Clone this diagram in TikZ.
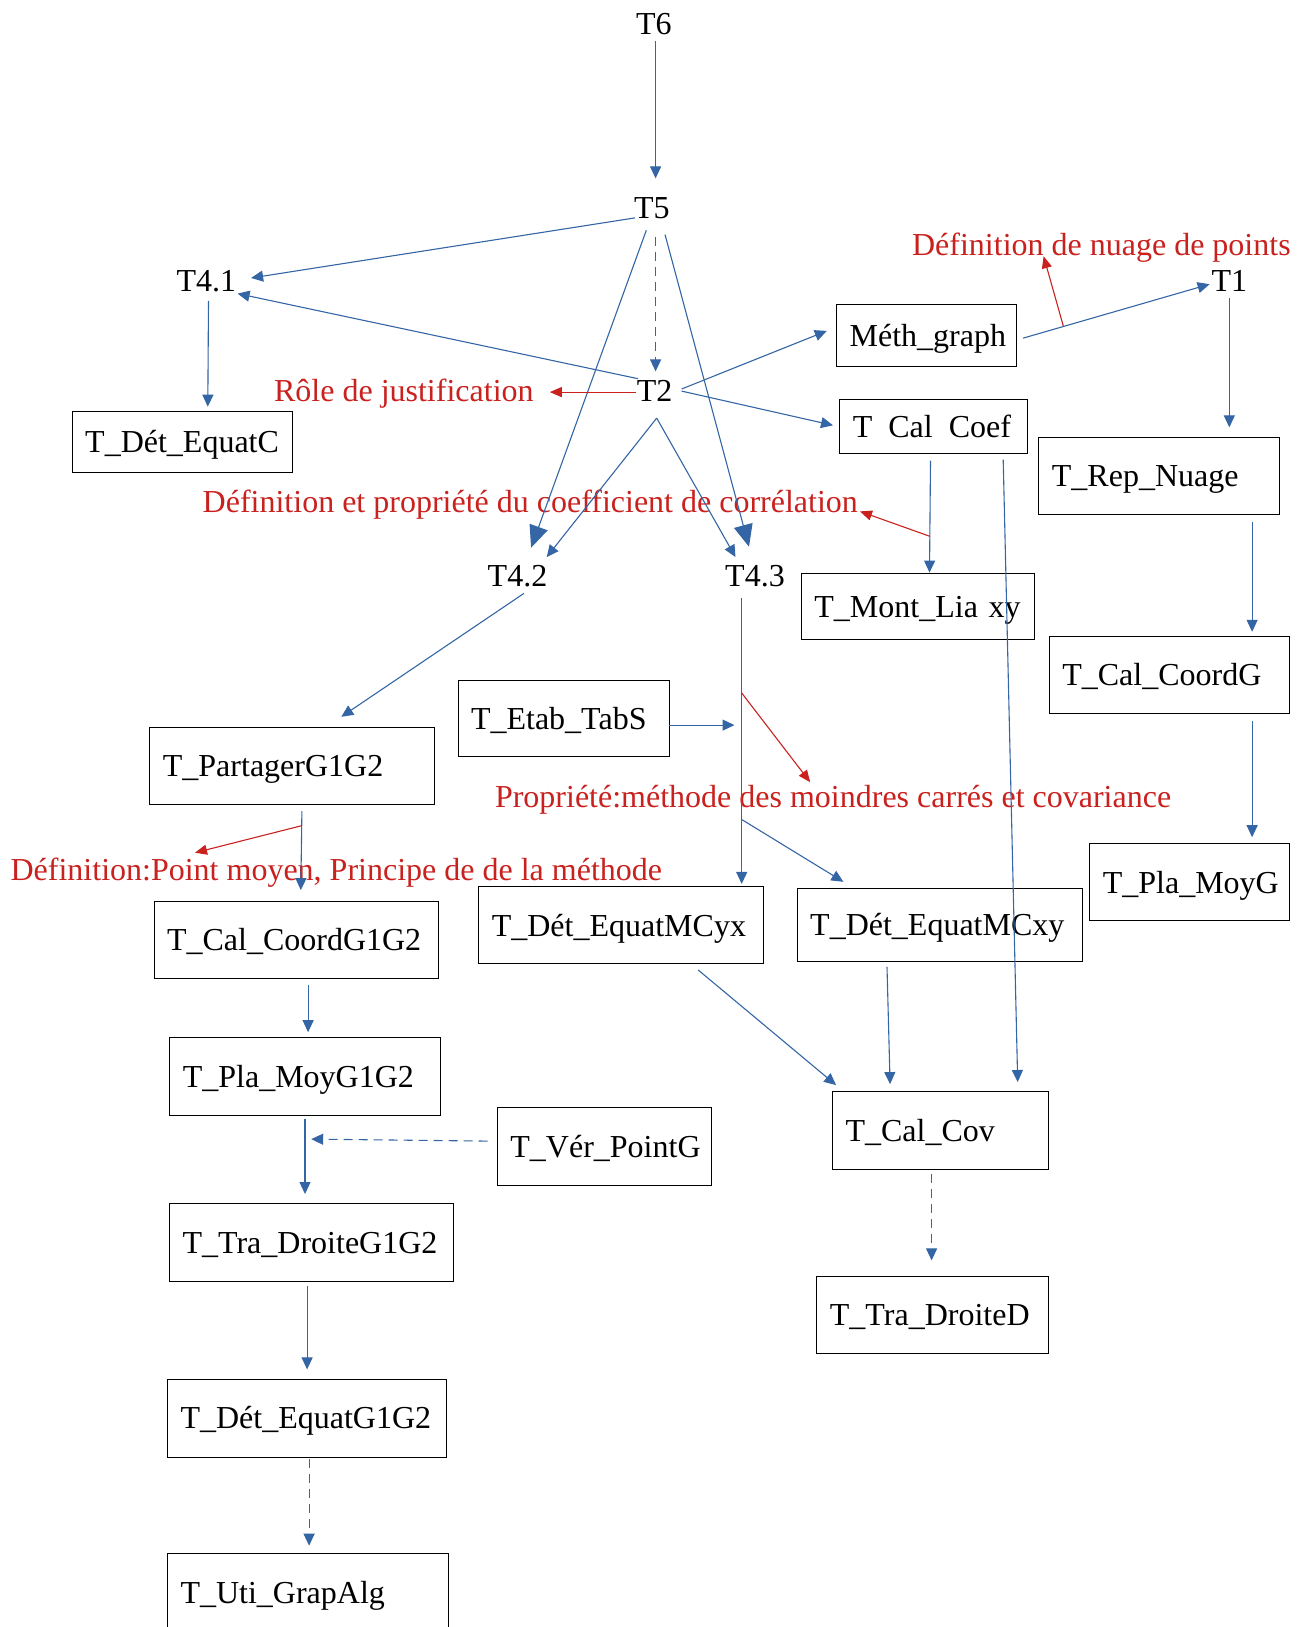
\documentclass[tikz,border=0pt]{standalone}
\usepackage{fontspec}
\setmainfont{Liberation Serif}
\usetikzlibrary{arrows.meta}
\definecolor{lblue}{HTML}{3465A4}
\definecolor{lred}{HTML}{C9211E}
\begin{document}
\begin{tikzpicture}[x=1pt,y=-1pt,
  font=\fontsize{32pt}{38pt}\selectfont,
  lab/.style={inner sep=0pt, text height=21.7pt, text depth=0pt},
  rlab/.style={lab, text=lred, anchor=west},
  tbox/.style={draw=black, line width=1pt, anchor=north west, inner xsep=13pt, inner ysep=0pt,
               align=left, text height=21.7pt, text depth=0pt},
  conn/.style={draw=lblue, line width=1.1pt, -{Triangle[length=12pt,width=11pt]}},
  bigconn/.style={draw=lblue, line width=1.1pt, -{Triangle[length=22pt,width=19pt]}},
  dconn/.style={conn, dash pattern=on 9pt off 6pt},
  rconn/.style={draw=lred, line width=1.1pt, -{Triangle[length=12pt,width=10pt]}}]
\useasboundingbox (0,0) rectangle (1304,1627);

% plain task labels
\node[lab] (T6) at (653.8,23.8) {T6};
\node[lab] (T5) at (651.8,207.8) {T5};
\node[lab] (T41) at (206.4,281.1) {T4.1};
\node[lab] (T2) at (654.6,391.1) {T2};
\node[lab] (T1) at (1229.3,281.1) {T1};
\node[lab] (T42) at (517.5,575.5) {T4.2};
\node[lab] (T43) at (755,575.5) {T4.3};

% red labels
\node[rlab] (Lnuage) at (911.9,244.8) {Définition de nuage de points};
\node[rlab] (Lrole) at (273.9,391.1) {Rôle de justification};
\node[rlab] (Lcoef) at (202.5,502.1) {Définition et propriété du coefficient de corrélation};
\node[rlab] (Lmc) at (494.8,796.7) {Propriété:méthode des moindres carrés et covariance};
\node[rlab] (Lpm) at (10.4,869.3) {Définition:Point moyen, Principe de de la méthode};

% boxes
\node[tbox, minimum width=179.5pt, minimum height=62.2pt, text width=153.5pt] (meth) at (836.1,304.0) {Méth\_graph};
\node[tbox, minimum width=219.8pt, minimum height=61.2pt, text width=193.8pt] (detC) at (71.7,410.8) {T\_Dét\_EquatC};
\node[tbox, minimum width=187.7pt, minimum height=53.9pt, text width=161.7pt] (coef) at (839.3,399.4) {T\phantom{\_}Cal\phantom{\_}Coef};
\node[tbox, minimum width=240.7pt, minimum height=76.8pt, text width=214.7pt] (rep) at (1038.4,436.7) {T\_Rep\_Nuage};
\node[tbox, minimum width=233.4pt, minimum height=66.4pt, text width=207.4pt] (mont) at (800.9,572.6) {T\_Mont\_Lia~xy};
\node[tbox, minimum width=239.7pt, minimum height=76.8pt, text width=213.7pt] (coordG) at (1048.8,635.9) {T\_Cal\_CoordG};
\node[tbox, minimum width=211.6pt, minimum height=76.8pt, text width=185.6pt] (etab) at (457.5,679.5) {T\_Etab\_TabS};
\node[tbox, minimum width=284.2pt, minimum height=76.8pt, text width=258.2pt] (part) at (149.4,727.2) {T\_PartagerG1G2};
\node[tbox, minimum width=199.2pt, minimum height=76.8pt, text width=173.2pt] (plaG) at (1089.3,843.4) {T\_Pla\_MoyG};
\node[tbox, minimum width=284.3pt, minimum height=77.8pt, text width=258.3pt] (coordGG) at (153.5,900.5) {T\_Cal\_CoordG1G2};
\node[tbox, minimum width=285.0pt, minimum height=77.3pt, text width=259.0pt] (mcyx) at (478.3,886.0) {T\_Dét\_EquatMCyx};
\node[tbox, minimum width=285.3pt, minimum height=72.6pt, text width=259.3pt] (mcxy) at (796.7,888.0) {T\_Dét\_EquatMCxy};
\node[tbox, minimum width=270.7pt, minimum height=77.7pt, text width=244.7pt] (plaGG) at (169.3,1037.3) {T\_Pla\_MoyG1G2};
\node[tbox, minimum width=213.7pt, minimum height=77.8pt, text width=187.7pt] (ver) at (496.9,1106.9) {T\_Vér\_PointG};
\node[tbox, minimum width=215.8pt, minimum height=77.8pt, text width=189.8pt] (cov) at (832.0,1091.3) {T\_Cal\_Cov};
\node[tbox, minimum width=284.2pt, minimum height=77.8pt, text width=258.2pt] (traGG) at (169.1,1203.4) {T\_Tra\_DroiteG1G2};
\node[tbox, minimum width=231.4pt, minimum height=76.8pt, text width=205.4pt] (traD) at (816.4,1276.0) {T\_Tra\_DroiteD};
\node[tbox, minimum width=279.1pt, minimum height=77.8pt, text width=253.1pt] (eqGG) at (167.0,1378.7) {T\_Dét\_EquatG1G2};
\node[tbox, minimum width=281.2pt, minimum height=78pt, text width=255.2pt] (uti) at (167.0,1553.0) {T\_Uti\_GrapAlg};

% connector end points
\coordinate (T6o) at (655.6,41.5);   \coordinate (T5i) at (655.6,178.4);
\coordinate (T5a) at (634.9,217.9);  \coordinate (T41a) at (251.1,278.0);
\coordinate (T2a) at (638.0,378.7);  \coordinate (T41b) at (237.6,293.6);
\coordinate (T41o) at (208.5,300.8); \coordinate (detCi) at (207.8,406.7);
\coordinate (T5b) at (655.6,236.5);  \coordinate (T2i) at (655.6,371.4);
\coordinate (T5c) at (646.3,230.3);  \coordinate (T42a) at (531.1,547.7);
\coordinate (T5d) at (665.0,234.5);  \coordinate (T43a) at (749.0,546.7);
\coordinate (T2b) at (656.7,418.1);
\coordinate (T42b) at (546.7,557.1); \coordinate (T43b) at (735.5,557.1);
\coordinate (T2c) at (681.6,389.0);  \coordinate (methi) at (826.8,330.9);
\coordinate (T2d) at (681.6,391.1);  \coordinate (coefi) at (833.0,425.3);
\coordinate (T2e) at (635.9,392.1);  \coordinate (rolei) at (549.8,392.1);
\coordinate (metho) at (1022.9,338.2); \coordinate (T1i) at (1209.6,284.2);
\coordinate (nuo) at (1063.3,326.0); \coordinate (nuagei) at (1043.6,256.2);
\coordinate (T1o) at (1229.3,297.7); \coordinate (repi) at (1229.3,427.4);
\coordinate (coefo) at (930.5,460.6); \coordinate (monti) at (929.5,572.6);
\coordinate (cfo) at (929.8,536.3);  \coordinate (Lcoefi) at (860.0,511.4);
\coordinate (coefo2) at (1003.2,459.6); \coordinate (covi1) at (1017.7,1082.0);
\coordinate (repo) at (1252.1,521.8); \coordinate (coordGi) at (1252.1,631.8);
\coordinate (coordGo) at (1252.1,721.0); \coordinate (plaGi) at (1252.1,837.2);
\coordinate (T42o) at (523.9,593.4); \coordinate (parti) at (341.3,716.8);
\coordinate (T43o) at (741.7,597.5); \coordinate (mcyxi) at (741.7,883.9);
\coordinate (etabo) at (669.1,725.1); \coordinate (etabe) at (734.5,725.1);
\coordinate (mco) at (741.7,693.0);  \coordinate (Lmci) at (810.2,782.2);
\coordinate (T43c) at (741.7,819.5); \coordinate (mcxyi) at (843.4,881.8);
\coordinate (parto) at (301.9,811.2); \coordinate (coordGGi) at (300.8,890.1);
\coordinate (pmo) at (301.2,825.8);  \coordinate (Lpmi) at (195.0,852.7);
\coordinate (coordGGo) at (308.1,984.5); \coordinate (plaGGi) at (308.1,1032.2);
\coordinate (plaGGo) at (305.0,1119.4); \coordinate (traGGi) at (305.0,1194.0);
\coordinate (vero) at (487.6,1141.1); \coordinate (vere) at (311.2,1139.1);
\coordinate (traGGo) at (307.1,1286.4); \coordinate (eqGGi) at (307.1,1369.4);
\coordinate (eqGGo) at (309.1,1458.6); \coordinate (utii) at (309.1,1545.7);
\coordinate (mcyxo) at (698.2,970.0); \coordinate (covi2) at (836.1,1085.1);
\coordinate (mcxyo) at (887.0,966.9); \coordinate (covi3) at (890.1,1084.1);
\coordinate (covo) at (931.6,1174.3); \coordinate (traDi) at (931.6,1260.4);

% blue connectors
\draw[conn] (T6o) -- (T5i);
\draw[conn] (T5a) -- (T41a);
\draw[conn] (T2a) -- (T41b);
\draw[conn] (T41o) -- (detCi);
\draw[dconn] (T5b) -- (T2i);
\draw[bigconn] (T5c) -- (T42a);
\draw[bigconn] (T5d) -- (T43a);
\draw[conn] (T2b) -- (T42b);
\draw[conn] (T2b) -- (T43b);
\draw[conn] (T2c) -- (methi);
\draw[conn] (T2d) -- (coefi);
\draw[conn] (metho) -- (T1i);
\draw[conn] (T1o) -- (repi);
\draw[conn] (coefo) -- (monti);
\draw[conn] (coefo2) -- (covi1);
\draw[conn] (repo) -- (coordGi);
\draw[conn] (coordGo) -- (plaGi);
\draw[conn] (T42o) -- (parti);
\draw[conn] (T43o) -- (mcyxi);
\draw[conn] (etabo) -- (etabe);
\draw[conn] (T43c) -- (mcxyi);
\draw[conn] (parto) -- (coordGGi);
\draw[conn] (coordGGo) -- (plaGGi);
\draw[conn] (plaGGo) -- (traGGi);
\draw[dconn] (vero) -- (vere);
\draw[conn] (traGGo) -- (eqGGi);
\draw[dconn] (eqGGo) -- (utii);
\draw[conn] (mcyxo) -- (covi2);
\draw[conn] (mcxyo) -- (covi3);
\draw[dconn] (covo) -- (traDi);

% red connectors
\draw[rconn] (T2e) -- (rolei);
\draw[rconn] (nuo) -- (nuagei);
\draw[rconn] (cfo) -- (Lcoefi);
\draw[rconn] (mco) -- (Lmci);
\draw[rconn] (pmo) -- (Lpmi);
\end{tikzpicture}
\end{document}
